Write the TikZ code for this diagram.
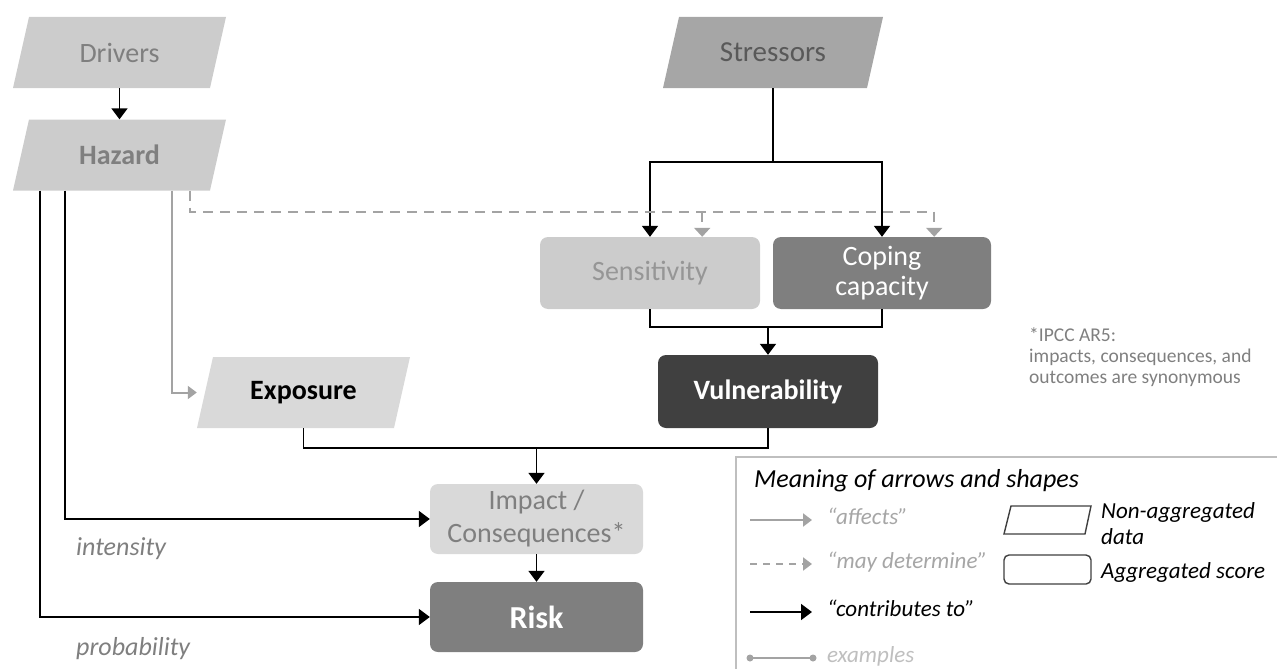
\documentclass[tikz,border=0pt]{standalone}
\usepackage{fontspec}
\setmainfont{Carlito}
\usetikzlibrary{arrows.meta,calc}

\definecolor{lightfill}{HTML}{CCCCCC}
\definecolor{paleFill}{HTML}{D9D9D9}
\definecolor{midFill}{HTML}{A6A6A6}
\definecolor{darkFill}{HTML}{7F7F7F}
\definecolor{deepFill}{HTML}{404040}
\definecolor{greyText}{HTML}{7F7F7F}
\definecolor{dimText}{HTML}{595959}
\definecolor{softText}{HTML}{969696}
\definecolor{arrowGrey}{HTML}{A3A3A3}
\definecolor{frameGrey}{HTML}{BFBFBF}

\begin{document}
\begin{tikzpicture}[x=1pt,y=-1pt,
  base/.style={inner sep=0pt, minimum height=71pt, align=center,
    font=\fontsize{28}{30}\selectfont},
  pgram/.style={base, path picture={
    \fill[#1] ([xshift=16pt]path picture bounding box.north west)
      -- (path picture bounding box.north east)
      -- ([xshift=-16pt]path picture bounding box.south east)
      -- (path picture bounding box.south west) -- cycle;}},
  rbox/.style={base, rounded corners=8pt, fill=#1},
  contrib/.style={draw=black, line width=1.8pt,
    -{Triangle[width=16pt,length=11pt]}},
  plainline/.style={draw=black, line width=1.8pt},
  affects/.style={draw=arrowGrey, line width=2pt,
    -{Triangle[width=13pt,length=9pt]}},
  maydet/.style={draw=arrowGrey, line width=2.2pt, dash pattern=on 10pt off 7pt,
    -{Triangle[width=16pt,length=9pt]}},
  lbl/.style={inner sep=0pt, anchor=base west, font=\fontsize{26}{28}\selectfont\itshape, text=greyText},
  legtxt/.style={inner sep=0pt, anchor=base west, font=\fontsize{23}{25}\selectfont\itshape},
]
\useasboundingbox (0,0) rectangle (1277,669);
\clip (0,0) rectangle (1277,669);

% ---------- boxes ----------
\node[pgram=lightfill, minimum width=213pt, text=greyText] (drv) at (119.5,52.5) {Drivers};
\node[pgram=lightfill, minimum width=213pt, text=greyText,
  font=\fontsize{28}{30}\selectfont\bfseries] (haz) at (119.5,155) {Hazard};
\node[pgram=midFill, minimum width=220pt, text=dimText,
  font=\fontsize{29}{30}\selectfont] (str) at (773,52.5) {Stressors};
\node[rbox=lightfill, minimum width=220pt, minimum height=72pt, text=softText] (sens) at (650,273) {Sensitivity};
\node[rbox=darkFill, minimum width=218pt, minimum height=72pt, text=white] (cop) at (882,273) {Coping\\capacity};
\node[pgram=paleFill, minimum width=213pt, text=black,
  font=\fontsize{28}{30}\selectfont\bfseries] (exp) at (303.5,392.5) {Exposure};
\node[rbox=deepFill, minimum width=220pt, minimum height=73pt, text=white,
  font=\fontsize{28}{30}\selectfont\bfseries] (vul) at (768,391.5) {Vulnerability};
\node[rbox=paleFill, minimum width=213pt, minimum height=70pt, text=greyText,
  font=\fontsize{28}{33}\selectfont] (imp) at (536.5,519) {Impact /\\Consequences*};
\node[rbox=darkFill, minimum width=213pt, minimum height=70pt, text=white,
  font=\fontsize{32}{34}\selectfont\bfseries] (risk) at (536.5,617) {Risk};

% ---------- connectors ----------
\draw[contrib] (drv) -- (haz);

\coordinate (strJ) at ($(str.south)+(0,74)$);
\draw[plainline] (str.south) -- (strJ);
\draw[contrib] (strJ) -| (sens.north);
\draw[contrib] (strJ) -| (cop.north);

\coordinate (vulJ) at ($(sens.south)+(0,18)$);
\draw[plainline] (sens.south) -- (vulJ) -| (cop.south);
\draw[contrib] (vulJ -| vul.north) -- (vul.north);

% dashed "may determine" links from Hazard
\coordinate (hazD) at ($(haz.south east)+(-36,0)$);
\coordinate (sensD) at ($(sens.north east)+(-58,0)$);
\coordinate (copD) at ($(cop.north east)+(-57,0)$);
\draw[maydet] (hazD) -- ++(0,21) coordinate (dashJ) -| (copD);
\draw[maydet] (dashJ -| sensD) -- (sensD);

% Hazard to Exposure, Impact, Risk
\draw[affects] ($(haz.south west)+(159,0)$) |- (exp.west);
\draw[contrib] ($(haz.south west)+(52,0)$) |- (imp.west);
\draw[contrib] ($(haz.south west)+(27,0)$) |- (risk.west);

\coordinate (impJ) at ($(exp.south)+(0,20)$);
\draw[plainline] (exp.south) -- (impJ) -| (vul.south);
\draw[contrib] (impJ -| imp.north) -- (imp.north);
\draw[contrib] (imp) -- (risk);

% ---------- side labels ----------
\node[lbl] (intens) at (76,555) {intensity};
\node[lbl] (prob) at (76,655) {probability};

\node[inner sep=0pt, anchor=base west, align=left, text=greyText,
  font=\fontsize{19.5}{21}\selectfont] (note) at (1029,383)
  {*IPCC AR5:\\impacts, consequences, and\\outcomes are synonymous};

% ---------- legend ----------
\draw[draw=frameGrey, line width=1.5pt, fill=white] (736,457) rectangle (1300,700);
\node[legtxt, font=\fontsize{26}{28}\selectfont\itshape] (legtitle) at (754,487) {Meaning of arrows and shapes};

\coordinate (la1) at (750,520); \coordinate (lb1) at (812,520);
\draw[affects] (la1) -- (lb1);
\node[legtxt, text=midFill] (tAff) at (827,524) {“affects”};

\coordinate (la2) at (750,564); \coordinate (lb2) at (812,564);
\draw[affects, dash pattern=on 7pt off 6pt] (la2) -- (lb2);
\node[legtxt, text=midFill] (tMay) at (827,568) {“may determine”};

\coordinate (la3) at (750,612); \coordinate (lb3) at (812,612);
\draw[contrib, line width=1.6pt] (la3) -- (lb3);
\node[legtxt, text=black] (tCon) at (827,616) {“contributes to”};

\coordinate (la4) at (750,658); \coordinate (lb4) at (813,658);
\draw[draw=arrowGrey, line width=1.6pt] (la4) -- (lb4);
\fill[arrowGrey] (la4) circle (3.5pt) (lb4) circle (3.5pt);
\node[legtxt, text=frameGrey] (tEx) at (827,662) {examples};

\draw[draw=deepFill, line width=1.4pt] (1011,506) -- (1091,506) -- (1085,534) -- (1004,534) -- cycle;
\draw[draw=deepFill, line width=1.4pt, rounded corners=5pt] (1004,555) rectangle (1091,584);
\node[legtxt, text=black] (tNon) at (1101,518) {Non-aggregated};
\node[legtxt, text=black] (tData) at (1101,544) {data};
\node[legtxt, text=black] (tAgg) at (1101,578) {Aggregated score};

\end{tikzpicture}
\end{document}
